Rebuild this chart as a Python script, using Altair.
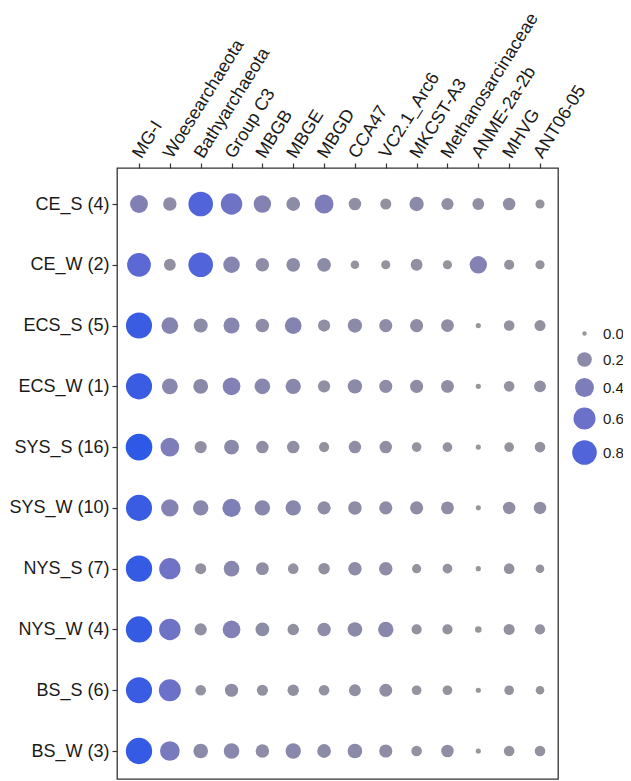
import altair as alt
import pandas as pd

sites = ["CE_S (4)", "CE_W (2)", "ECS_S (5)", "ECS_W (1)", "SYS_S (16)",
         "SYS_W (10)", "NYS_S (7)", "NYS_W (4)", "BS_S (6)", "BS_W (3)"]
taxa = ["MG-I", "Woesearchaeota", "Bathyarchaeota", "Group C3", "MBGB", "MBGE",
        "MBGD", "CCA47", "VC2.1_Arc6", "MKCST-A3", "Methanosarcinaceae",
        "ANME-2a-2b", "MHVG", "ANT06-05"]

ce_s = [0.35, 0.16, 0.80, 0.56, 0.32, 0.17, 0.40, 0.13, 0.09, 0.19, 0.12, 0.11, 0.13, 0.05]
ce_w = [0.73, 0.11, 0.80, 0.28, 0.16, 0.17, 0.17, 0.04, 0.05, 0.11, 0.05, 0.32, 0.07, 0.05]
ecs_s = [0.93, 0.29, 0.18, 0.26, 0.16, 0.29, 0.12, 0.19, 0.15, 0.15, 0.14, 0.003, 0.08, 0.09]
ecs_w = [0.93, 0.25, 0.21, 0.34, 0.24, 0.23, 0.12, 0.19, 0.15, 0.15, 0.14, 0.003, 0.08, 0.11]
sys_s = [0.98, 0.39, 0.12, 0.21, 0.13, 0.13, 0.07, 0.13, 0.13, 0.06, 0.06, 0.003, 0.06, 0.08]
sys_w = [0.93, 0.32, 0.23, 0.37, 0.23, 0.23, 0.15, 0.16, 0.15, 0.15, 0.14, 0.003, 0.13, 0.13]
nys_s = [0.95, 0.55, 0.09, 0.24, 0.14, 0.08, 0.10, 0.16, 0.16, 0.05, 0.06, 0.003, 0.08, 0.04]
nys_w = [0.95, 0.56, 0.12, 0.34, 0.17, 0.10, 0.16, 0.20, 0.23, 0.07, 0.07, 0.014, 0.09, 0.07]
bs_s = [0.93, 0.60, 0.08, 0.15, 0.09, 0.10, 0.08, 0.11, 0.14, 0.06, 0.06, 0.003, 0.06, 0.04]
bs_w = [0.95, 0.45, 0.20, 0.24, 0.16, 0.23, 0.17, 0.20, 0.15, 0.08, 0.13, 0.003, 0.08, 0.08]

matrix = [ce_s, ce_w, ecs_s, ecs_w, sys_s, sys_w, nys_s, nys_w, bs_s, bs_w]
legend_values = [0.0, 0.2, 0.4, 0.6, 0.8]

rows = []
for site, vals in zip(sites, matrix):
    for taxon, v in zip(taxa, vals):
        rows.append({"site": site, "taxon": taxon, "value": v})
df = pd.DataFrame(rows)

FONT = "Liberation Sans"

leg = dict(type="symbol", values=legend_values, orient="none", legendX=455, legendY=158,
           labelFontSize=15, labelFont=FONT, labelColor="#1a1a1a", labelOffset=6,
           symbolType="circle", rowPadding=10, symbolStrokeWidth=0, format=".1f")

chart = alt.Chart(df).mark_circle(opacity=1).encode(
    x=alt.X("taxon:N", sort=taxa, title="",
            scale=alt.Scale(type="point", range=[22, 423], padding=0),
            axis=alt.Axis(orient="top", labelAngle=302, labelAlign="left",
                          labelBaseline="alphabetic", labelFontSize=18, labelFont=FONT,
                          labelColor="#1a1a1a", tickColor="#333333", tickSize=5,
                          tickWidth=1.2, labelPadding=4, labelOffset=2, domain=False,
                          grid=False, labelLimit=300)),
    y=alt.Y("site:N", sort=sites, title="",
            scale=alt.Scale(type="point", range=[36, 583], padding=0),
            axis=alt.Axis(labelFontSize=18, labelFont=FONT, labelColor="#1a1a1a",
                          tickColor="#333333", tickSize=5, tickWidth=1.2, labelPadding=3,
                          domain=False, grid=False, labelLimit=300)),
    size=alt.Size("value:Q", title="",
                  scale=alt.Scale(type="pow", exponent=0.8, domain=[0, 1], range=[20, 720]),
                  legend=alt.Legend(**leg)),
    color=alt.Color("value:Q", title="",
                    scale=alt.Scale(domain=[0, 1], range=["#979799", "#2658e8"],
                                    interpolate="lab", clamp=True),
                    legend=alt.Legend(**leg)),
).properties(
    width=441, height=611,
    autosize=alt.AutoSizeParams(type="none"),
    padding={"left": 109, "top": 160, "right": 65, "bottom": 2},
).configure_view(
    stroke="#333333", strokeWidth=1.3
)

chart.save("out.html", embed_options={"renderer": "svg", "actions": False})
